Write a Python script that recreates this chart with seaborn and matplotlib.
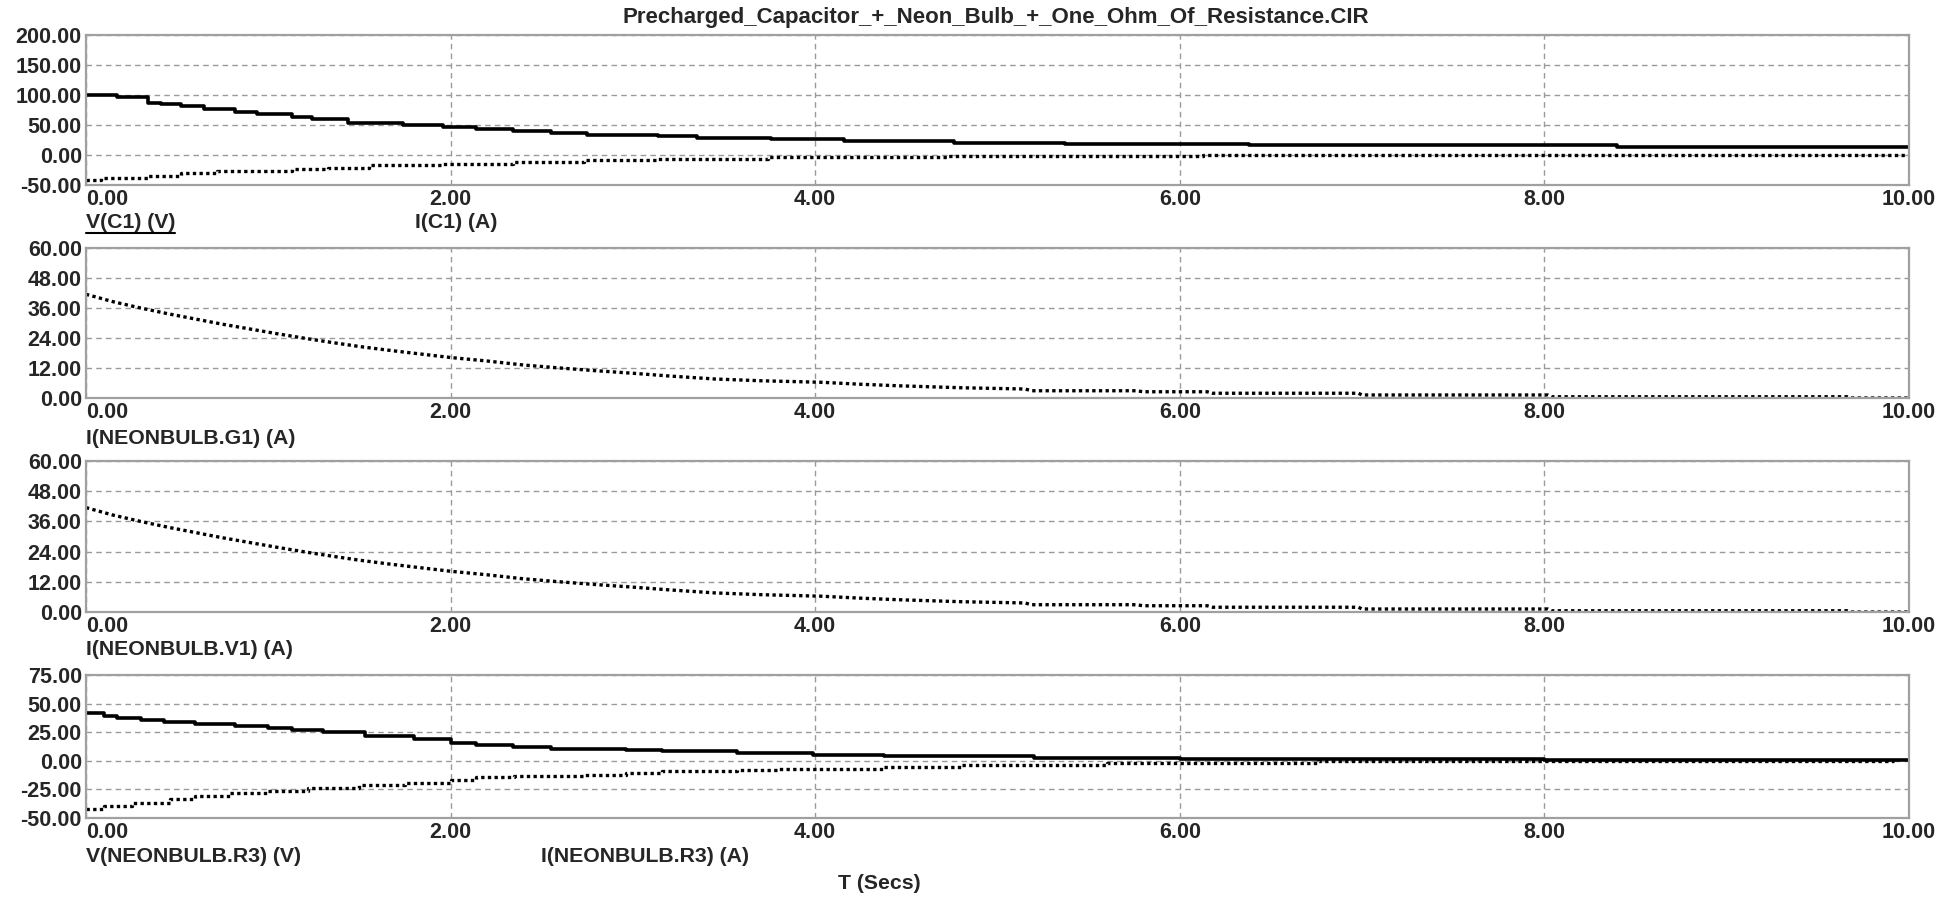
import matplotlib
matplotlib.use("Agg")
import matplotlib.pyplot as plt
import seaborn as sns
from matplotlib.lines import Line2D

# V(C1) / I(C1)
vc1_t = [0, 0.17, 0.34, 0.41, 0.52, 0.65, 0.82, 0.94, 1.13, 1.24, 1.44, 1.74, 1.96, 2.14, 2.34,
         2.55, 2.75, 3.14, 3.35, 3.76, 4.16, 4.76, 5.37, 6.38, 8.4, 10.0]
vc1 = [100, 96.5, 87, 84.5, 81.5, 76, 71.5, 68, 64, 60.5, 54, 49.5, 47, 44, 40,
       37, 34, 31.5, 29, 26, 23.5, 20.5, 18.5, 16, 14, 14]
ic1_t = [0, 0.08, 0.34, 0.52, 0.72, 1.13, 1.33, 1.55, 1.96, 2.34, 2.73, 3.14, 3.74, 4.73, 6.13, 10.0]
ic1 = [-41.5, -38, -35, -30.5, -27.5, -24, -21, -17, -14.5, -11, -8.3, -6, -3.3, -1, 0.6, 0.6]

# I(NEONBULB.G1) and I(NEONBULB.V1) (same trace)
g1_t = [0, 0.15, 0.3, 0.45, 0.6, 0.75, 0.9, 1.05, 1.2, 1.35, 1.5, 1.65, 1.8, 2.0, 2.2, 2.4, 2.6,
        2.8, 3.0, 3.2, 3.45, 3.7, 4.03, 4.25, 4.45, 4.8, 5.15, 5.19, 5.76, 5.8, 6.15, 6.18,
        6.98, 7.0, 8.02, 8.04, 9.66, 9.68, 10.0]
g1 = [41.5, 38.5, 36, 33.7, 31.6, 29.5, 27.6, 25.7, 23.9, 22.2, 20.6, 19.2, 17.9, 16.2, 14.8, 13.2, 12,
      10.9, 9.9, 8.8, 7.6, 6.9, 6.3, 5.5, 4.9, 4.1, 3.6, 2.9, 2.9, 2.5, 2.5, 1.9,
      1.9, 1.2, 1.2, 0.5, 0.5, 0, 0]
v1_t = g1_t
v1 = g1

# V(NEONBULB.R3) / I(NEONBULB.R3)
vr3_t = [0, 0.1, 0.17, 0.3, 0.43, 0.6, 0.82, 1.0, 1.13, 1.3, 1.53, 1.8, 2.0, 2.14, 2.34, 2.55,
         2.96, 3.16, 3.57, 3.99, 4.38, 5.2, 6.0, 8.0, 10.0]
vr3 = [41.6, 39, 37.5, 35.5, 34, 32.5, 30, 28.5, 27, 25, 22, 19, 15.5, 13.5, 12, 10.6,
       9.4, 8.3, 6.8, 5.3, 3.9, 2.6, 1.6, 0.4, 0.4]
ir3_t = [0, 0.1, 0.25, 0.46, 0.6, 0.79, 1.0, 1.22, 1.5, 1.75, 2.0, 2.14, 2.35, 2.74, 2.96, 3.16,
         3.57, 3.79, 4.37, 4.8, 5.6, 5.9, 6.76, 9.92]
ir3 = [-42, -39.5, -37, -33.5, -31, -28, -26, -23.5, -21, -19, -16.8, -14.5, -13.3, -12.1, -10.4, -8.6,
       -8, -6.9, -5.1, -3.9, -2.2, -1.6, -0.2, -0.2]

title = "Precharged_Capacitor_+_Neon_Bulb_+_One_Ohm_Of_Resistance.CIR"
x_ticks = [0, 2, 4, 6, 8, 10]

sns.set_style("white")
plt.rcParams["font.family"] = ["Liberation Sans", "DejaVu Sans"]
plt.rcParams["font.weight"] = "bold"

fig = plt.figure(figsize=(19.4, 8.97), dpi=100)

left, width = 0.0443, 0.9397
panels = [
    (0.7938, 0.1672, (-50, 200), [-50, 0, 50, 100, 150, 200]),
    (0.5563, 0.1672, (0, 60), [0, 12, 24, 36, 48, 60]),
    (0.3177, 0.1683, (0, 60), [0, 12, 24, 36, 48, 60]),
    (0.0881, 0.1594, (-50, 75), [-50, -25, 0, 25, 50, 75]),
]
axes = []
for bottom, h, ylim, yt in panels:
    ax = fig.add_axes([left, bottom, width, h])
    ax.set_xlim(0, 10)
    ax.set_ylim(*ylim)
    ax.set_xticks(x_ticks)
    ax.set_yticks(yt)
    ax.set_xticklabels([f"{v:.2f}" for v in x_ticks], fontsize=15.5, fontweight="bold")
    ax.set_yticklabels([f"{v:.2f}" for v in yt], fontsize=15.5, fontweight="bold")
    ax.get_xticklabels()[0].set_horizontalalignment("left")
    ax.tick_params(length=0, pad=3)
    ax.tick_params(axis="x", pad=3)
    ax.grid(True, color="#9a9a9a", linestyle=(0, (4, 3)), linewidth=1.0)
    for s in ax.spines.values():
        s.set_color("#a0a0a0")
        s.set_linewidth(1.6)
    axes.append(ax)

solid = dict(color="black", linewidth=2.6, estimator=None, drawstyle="steps-post")
dotted = dict(color="black", linewidth=2.4, estimator=None, linestyle=(0, (1, 1)))

sns.lineplot(x=vc1_t, y=vc1, ax=axes[0], **solid)
sns.lineplot(x=ic1_t, y=ic1, ax=axes[0], drawstyle="steps-post", **dotted)
sns.lineplot(x=g1_t, y=g1, ax=axes[1], **dotted)
sns.lineplot(x=v1_t, y=v1, ax=axes[2], **dotted)
sns.lineplot(x=vr3_t, y=vr3, ax=axes[3], **solid)
sns.lineplot(x=ir3_t, y=ir3, ax=axes[3], drawstyle="steps-post", **dotted)

fig.text(0.5134, 0.981, title, ha="center", va="center", fontsize=16, fontweight="bold")

lab = dict(fontsize=15.3, fontweight="bold", va="center", ha="left")
t_vc1 = fig.text(0.0443, 0.7525, "V(C1) (V)", **lab)
fig.text(0.2139, 0.7525, "I(C1) (A)", **lab)
fig.text(0.0443, 0.5117, "I(NEONBULB.G1) (A)", **lab)
fig.text(0.0443, 0.2759, "I(NEONBULB.V1) (A)", **lab)
fig.text(0.0443, 0.0446, "V(NEONBULB.R3) (V)", **lab)
fig.text(0.2789, 0.0446, "I(NEONBULB.R3) (A)", **lab)
fig.text(0.453, 0.0156, "T (Secs)", fontsize=15.3, fontweight="bold", ha="center", va="center")

# underline the first trace name
fig.canvas.draw()
bb = t_vc1.get_window_extent().transformed(fig.transFigure.inverted())
fig.add_artist(Line2D([bb.x0, bb.x1], [bb.y0 - 0.002, bb.y0 - 0.002], color="black",
                      linewidth=1.5, transform=fig.transFigure))

fig.savefig("out.png", dpi=100)
